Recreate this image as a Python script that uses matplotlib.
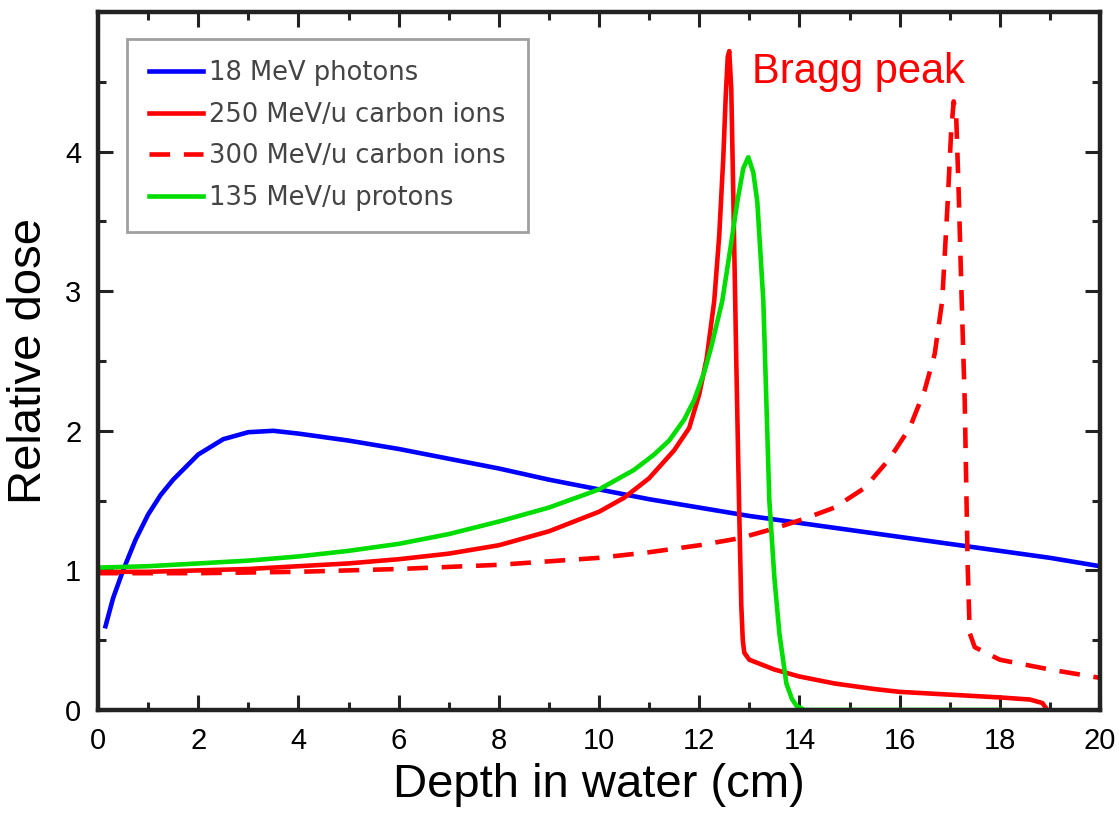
import matplotlib
matplotlib.use("Agg")
import matplotlib.pyplot as plt
from matplotlib.ticker import MultipleLocator

# 18 MeV photons
photon_x = [0.15, 0.3, 0.5, 0.75, 1.0, 1.25, 1.5, 2.0, 2.5, 3.0, 3.5, 4.0, 5, 6, 7, 8, 9,
            10, 11, 12, 13, 14, 15, 16, 17, 18, 19, 20]
photon_y = [0.60, 0.80, 1.0, 1.22, 1.40, 1.54, 1.65, 1.83, 1.94, 1.99, 2.0, 1.98, 1.93,
            1.87, 1.80, 1.73, 1.65, 1.58, 1.51, 1.45, 1.39, 1.34, 1.29, 1.24, 1.19, 1.14,
            1.09, 1.03]

# 250 MeV/u carbon ions
c250_x = [0, 1, 2, 3, 4, 5, 6, 7, 8, 9, 10, 10.5, 11, 11.5, 11.8, 12.0, 12.15, 12.3, 12.4,
          12.48, 12.53, 12.57, 12.6, 12.64, 12.68, 12.74, 12.8, 12.84, 12.87, 12.9, 13.0,
          13.5, 14.0, 14.7, 15.5, 16.0, 17.0, 18.0, 18.6, 18.85, 18.95]
c250_y = [0.99, 0.99, 1.0, 1.01, 1.03, 1.05, 1.08, 1.12, 1.18, 1.28, 1.42, 1.52, 1.66,
          1.86, 2.02, 2.26, 2.52, 2.93, 3.40, 3.95, 4.40, 4.68, 4.72, 4.45, 3.70, 2.50,
          1.40, 0.75, 0.50, 0.41, 0.36, 0.29, 0.24, 0.19, 0.15, 0.13, 0.11, 0.09, 0.075,
          0.05, 0.0]

# 300 MeV/u carbon ions
c300_x = [0, 2, 4, 6, 8, 10, 11, 12, 12.8, 13.5, 14.1, 14.7, 15.3, 15.8, 16.2, 16.5, 16.7,
          16.85, 16.96, 17.03, 17.08, 17.13, 17.18, 17.24, 17.3, 17.36, 17.4, 17.5, 18.0,
          19.0, 20.0]
c300_y = [0.98, 0.98, 0.99, 1.01, 1.04, 1.09, 1.13, 1.18, 1.23, 1.30, 1.37, 1.45, 1.59,
          1.80, 2.02, 2.29, 2.55, 2.93, 3.64, 4.15, 4.36, 4.25, 3.70, 2.93, 2.21, 1.02,
          0.55, 0.45, 0.36, 0.29, 0.23]

# 135 MeV/u protons
p135_x = [0, 1, 2, 3, 4, 5, 6, 7, 8, 9, 10, 10.7, 11.1, 11.4, 11.7, 11.9, 12.1, 12.24,
          12.46, 12.62, 12.76, 12.88, 12.98, 13.08, 13.16, 13.28, 13.4, 13.5, 13.6, 13.74,
          13.85, 13.94, 14.1, 18.0]
p135_y = [1.02, 1.03, 1.05, 1.07, 1.10, 1.14, 1.19, 1.26, 1.35, 1.45, 1.58, 1.72, 1.83,
          1.93, 2.08, 2.22, 2.42, 2.60, 2.93, 3.30, 3.64, 3.88, 3.96, 3.85, 3.64, 2.93,
          1.50, 0.95, 0.55, 0.19, 0.08, 0.03, 0.0, 0.0]

labels = ["18 MeV photons", "250 MeV/u carbon ions", "300 MeV/u carbon ions",
          "135 MeV/u protons"]

plt.rcParams['font.family'] = ['Liberation Sans', 'DejaVu Sans']

fig = plt.figure(figsize=(11.19, 8.19), dpi=100)
ax = fig.add_axes([98/1119, 109/819, 1002/1119, 698/819])

lw = 3.3
ax.plot(photon_x, photon_y, color='#0000ff', lw=lw, label=labels[0])
ax.plot(c250_x, c250_y, color='#ff0000', lw=lw, label=labels[1])
ax.plot(c300_x, c300_y, color='#ff0000', lw=lw, dashes=(4.5, 3), label=labels[2])
ax.plot(p135_x, p135_y, color='#00dd00', lw=lw, label=labels[3])

ax.set_xlim(0, 20)
ax.set_ylim(0, 5)
ax.xaxis.set_major_locator(MultipleLocator(2))
ax.xaxis.set_minor_locator(MultipleLocator(1))
ax.yaxis.set_minor_locator(MultipleLocator(0.5))
ax.set_yticks([0, 1, 2, 3, 4])

for s in ax.spines.values():
    s.set_linewidth(3.2)
    s.set_color('#222222')

ax.tick_params(which='both', direction='in', top=True, right=True, color='#222222',
               width=2.2, labelsize=21, pad=12)
ax.tick_params(which='major', length=11)
ax.tick_params(which='minor', length=6)

ax.set_xlabel("Depth in water (cm)", fontsize=34, labelpad=6)
ax.set_ylabel("Relative dose", fontsize=34, labelpad=10)

ax.text(13.05, 4.49, "Bragg peak", color='#ff0000', fontsize=30, va='baseline')

leg = ax.legend(loc='upper left', bbox_to_anchor=(0.029, 0.962),
                prop={'family': 'DejaVu Sans', 'size': 18.5},
                frameon=True, fancybox=False, handlelength=2.1, handletextpad=0.25,
                borderpad=0.85, labelspacing=0.6, borderaxespad=0)
leg.get_frame().set_edgecolor('#888888')
leg.get_frame().set_linewidth(2)
for t in leg.get_texts():
    t.set_color('#444444')

fig.savefig("out.png", dpi=100)
